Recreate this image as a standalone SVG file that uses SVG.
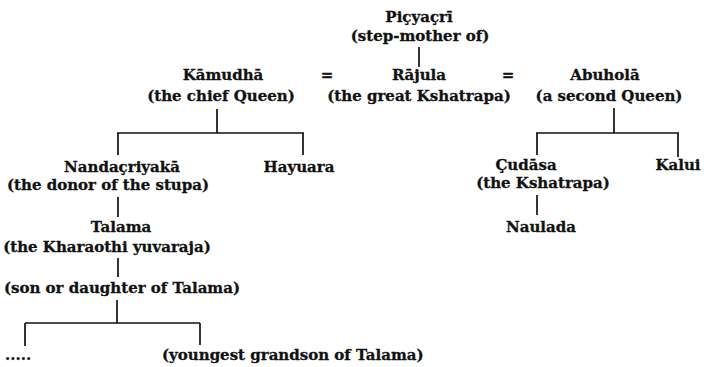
<svg xmlns="http://www.w3.org/2000/svg" width="710" height="367" viewBox="0 0 710 367">
<style>
text{font-family:"DejaVu Serif","Liberation Serif",serif;font-weight:bold;font-size:15px;fill:#111;stroke:#111;stroke-width:0.3;text-anchor:middle}
.l{text-anchor:start}
#connectors line{stroke:#111;stroke-width:1.7}
</style>
<rect width="710" height="367" fill="#fff"/>
<g id="connectors">
<line x1="419" y1="47" x2="419" y2="67"/>
<line x1="217" y1="109" x2="217" y2="133"/>
<line x1="117" y1="133" x2="304" y2="133"/>
<line x1="118" y1="133" x2="118" y2="155"/>
<line x1="303" y1="133" x2="303" y2="155"/>
<line x1="614" y1="108" x2="614" y2="133"/>
<line x1="536" y1="133" x2="679" y2="133"/>
<line x1="537" y1="133" x2="537" y2="155"/>
<line x1="678" y1="133" x2="678" y2="157"/>
<line x1="537" y1="195" x2="537" y2="215"/>
<line x1="118" y1="197" x2="118" y2="217"/>
<line x1="118" y1="258" x2="118" y2="277"/>
<line x1="117" y1="300" x2="117" y2="323"/>
<line x1="25" y1="323" x2="200" y2="323"/>
<line x1="25" y1="323" x2="25" y2="346"/>
<line x1="200" y1="323" x2="200" y2="345"/>
</g>
<g id="picyacri"><text x="419" y="22">Piçyaçrī</text><text x="420" y="41">(step-mother of)</text></g>
<g id="kamudha"><text x="223" y="80">Kāmudhā</text><text x="221" y="101">(the chief  Queen)</text></g>
<g id="eq1"><text x="327" y="80">=</text></g>
<g id="rajula"><text x="419" y="80">Rājula</text><text x="419" y="101">(the great Kshatrapa)</text></g>
<g id="eq2"><text x="508" y="80">=</text></g>
<g id="abuhola"><text x="605" y="80">Abuholā</text><text x="609" y="101">(a second Queen)</text></g>
<g id="nandacriyaka"><text x="122" y="172">Nandaçriyakā</text><text x="108" y="190">(the donor of  the stupa)</text></g>
<g id="hayuara"><text x="299" y="172">Hayuara</text></g>
<g id="talama"><text x="121" y="232">Talama</text><text x="107" y="252">(the Kharaothi yuvaraja)</text></g>
<g id="son"><text x="122" y="293">(son or daughter of Talama)</text></g>
<g id="cudasa"><text x="526" y="170">Çudāsa</text><text x="543" y="188">(the Kshatrapa)</text></g>
<g id="kalui"><text x="678" y="170">Kalui</text></g>
<g id="naulada"><text x="541" y="232">Naulada</text></g>
<g id="dots"><text class="l" x="5" y="360">.....</text></g>
<g id="youngest"><text class="l" x="162" y="360">(youngest grandson of Talama)</text></g>
</svg>
